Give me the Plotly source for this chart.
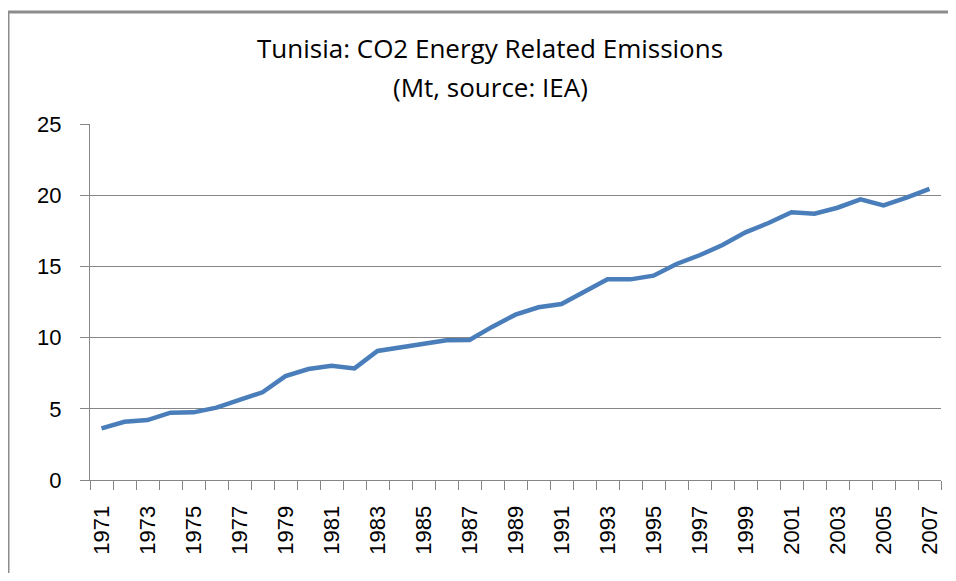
import plotly.graph_objects as go

years = [1971, 1972, 1973, 1974, 1975, 1976, 1977, 1978, 1979, 1980,
         1981, 1982, 1983, 1984, 1985, 1986, 1987, 1988, 1989, 1990,
         1991, 1992, 1993, 1994, 1995, 1996, 1997, 1998, 1999, 2000,
         2001, 2002, 2003, 2004, 2005, 2006, 2007]
emissions = [3.63, 4.09, 4.21, 4.73, 4.75, 5.08, 5.62, 6.16, 7.30, 7.79,
             8.03, 7.84, 9.06, 9.32, 9.53, 9.81, 9.83, 10.77, 11.61, 12.13,
             12.36, 13.22, 14.09, 14.09, 14.35, 15.17, 15.78, 16.50, 17.39, 18.05,
             18.80, 18.70, 19.12, 19.71, 19.29, 19.83, 20.44]
tick_years = years[::2]
tick_labels = [str(y) for y in tick_years]
y_ticks = [0, 5, 10, 15, 20, 25]
title_line1 = "Tunisia: CO2 Energy Related Emissions"
title_line2 = "(Mt, source: IEA)"

GRAY = "#868686"
OFF = 8  # page body offset
FIG_W, FIG_H = 940, 565

fig = go.Figure()
fig.add_trace(go.Scatter(
    x=years, y=emissions, mode="lines",
    line=dict(color="#4a7ebb", width=4.5),
    showlegend=False, hoverinfo="skip",
))

fig.update_layout(
    width=FIG_W, height=FIG_H,
    margin=dict(l=90 - OFF, r=(FIG_W + OFF) - 941, t=124 - OFF, b=(FIG_H + OFF) - 480),
    paper_bgcolor="white", plot_bgcolor="white",
    font=dict(family="Liberation Sans", color="#000000"),
)

ph = 356.0
pw = 851.0
fig.add_annotation(text=title_line1, xref="paper", yref="paper",
                   x=(490 - 90) / pw, y=(480 - 48) / ph,
                   xanchor="center", yanchor="middle", showarrow=False,
                   font=dict(family="Open Sans", size=26, color="#000000"))
fig.add_annotation(text=title_line2, xref="paper", yref="paper",
                   x=(490 - 90) / pw, y=(480 - 87) / ph,
                   xanchor="center", yanchor="middle", showarrow=False,
                   font=dict(family="Open Sans", size=26, color="#000000"))

fig.update_xaxes(
    range=[years[0] - 0.5, years[-1] + 0.5],
    tickmode="array", tickvals=tick_years, ticktext=tick_labels,
    tickangle=-90, ticks="", ticklabelstandoff=16,
    tickfont=dict(family="Liberation Sans", size=22, color="#000000"),
    showgrid=False, zeroline=False,
    showline=True, linecolor=GRAY, linewidth=1,
    minor=dict(tick0=years[0] - 0.5, dtick=1, ticks="outside", ticklen=9,
               tickcolor=GRAY, tickwidth=1, showgrid=False),
)
fig.update_yaxes(
    range=[0, 25], tickmode="array", tickvals=y_ticks,
    ticks="outside", ticklen=9, tickcolor=GRAY, tickwidth=1,
    ticklabelstandoff=14,
    tickfont=dict(family="Liberation Sans", size=22, color="#000000"),
    showgrid=True, gridcolor=GRAY, gridwidth=1, zeroline=False,
    showline=True, linecolor=GRAY, linewidth=1,
)

# chart-area border (top and left edges visible)
bx = (8 - 90) / pw
by = (480 - 12) / ph
fig.add_shape(type="line", xref="paper", yref="paper",
              x0=bx, y0=by, x1=1.2, y1=by,
              line=dict(color="#8c8c8c", width=3))
fig.add_shape(type="line", xref="paper", yref="paper",
              x0=bx, y0=by, x1=bx, y1=-0.5,
              line=dict(color="#8c8c8c", width=3))

fig.write_html("out.html")
